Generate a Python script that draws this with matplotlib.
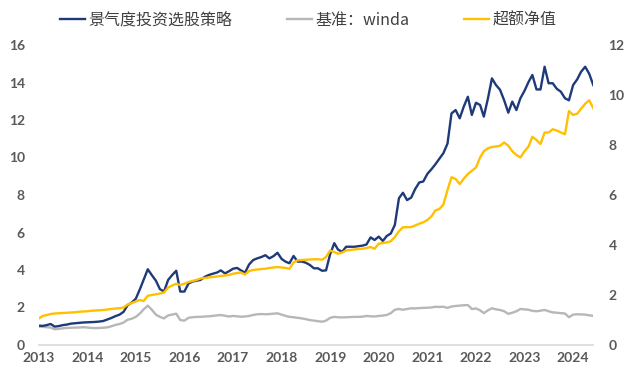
import pandas as pd
import matplotlib
matplotlib.use("Agg")
import matplotlib.pyplot as plt

# monthly data, 2013-01 .. 2024-06
strategy = [
    1.03, 1.02, 1.06, 1.12, 0.98, 1.01, 1.06, 1.09, 1.14, 1.16, 1.18, 1.20,
    1.21, 1.22, 1.23, 1.25, 1.28, 1.36, 1.44, 1.54, 1.62, 1.77, 2.13, 2.26,
    2.47, 2.98, 3.48, 4.04, 3.73, 3.43, 2.98, 2.85, 3.47, 3.73, 3.96, 2.85,
    2.85, 3.28, 3.38, 3.43, 3.47, 3.63, 3.73, 3.80, 3.86, 3.98, 3.82, 3.93,
    4.07, 4.11, 3.98, 3.86, 4.29, 4.53, 4.62, 4.69, 4.79, 4.62, 4.74, 4.92,
    4.59, 4.44, 4.36, 4.75, 4.45, 4.45, 4.39, 4.27, 4.09, 4.09, 3.96, 3.98,
    4.85, 5.43, 5.09, 4.97, 5.24, 5.24, 5.24, 5.27, 5.30, 5.36, 5.74, 5.60,
    5.78, 5.55, 5.81, 5.95, 6.40, 7.83, 8.12, 7.73, 7.86, 8.32, 8.67, 8.72,
    9.13, 9.38, 9.63, 9.93, 10.23, 10.74, 12.35, 12.53, 12.09, 12.71, 13.24, 12.27,
    12.92, 12.80, 12.18, 13.15, 14.22, 13.86, 13.61, 13.05, 12.39, 12.98, 12.53, 13.16,
    13.56, 14.04, 14.40, 13.63, 13.63, 14.84, 13.96, 13.96, 13.66, 13.51, 13.16, 13.05,
    13.86, 14.17, 14.57, 14.84, 14.47, 13.86,
]
benchmark = [
    0.98, 0.97, 0.95, 0.93, 0.84, 0.86, 0.89, 0.91, 0.92, 0.93, 0.93, 0.95,
    0.93, 0.91, 0.90, 0.91, 0.92, 0.94, 1.00, 1.07, 1.12, 1.20, 1.35, 1.40,
    1.50, 1.68, 1.90, 2.10, 1.88, 1.62, 1.50, 1.42, 1.58, 1.62, 1.67, 1.33,
    1.30, 1.45, 1.48, 1.50, 1.50, 1.52, 1.53, 1.55, 1.58, 1.60, 1.56, 1.52,
    1.55, 1.53, 1.51, 1.52, 1.55, 1.60, 1.64, 1.65, 1.64, 1.65, 1.67, 1.69,
    1.62, 1.55, 1.50, 1.48, 1.45, 1.42, 1.38, 1.33, 1.30, 1.27, 1.24, 1.30,
    1.45, 1.50, 1.48, 1.47, 1.48, 1.49, 1.50, 1.50, 1.51, 1.55, 1.53, 1.52,
    1.55, 1.57, 1.60, 1.70, 1.88, 1.92, 1.88, 1.92, 1.96, 1.95, 1.97, 1.98,
    1.99, 2.00, 2.04, 2.03, 2.04, 1.98, 2.05, 2.08, 2.10, 2.12, 2.13, 1.92,
    1.95, 1.85, 1.70, 1.85, 1.96, 1.90, 1.87, 1.80, 1.66, 1.72, 1.80, 1.92,
    1.90, 1.88, 1.82, 1.80, 1.83, 1.87, 1.80, 1.74, 1.72, 1.70, 1.68, 1.48,
    1.62, 1.64, 1.63, 1.62, 1.58, 1.56,
]
excess = [
    1.06, 1.16, 1.20, 1.24, 1.26, 1.27, 1.28, 1.29, 1.30, 1.31, 1.33, 1.34,
    1.35, 1.37, 1.38, 1.39, 1.40, 1.42, 1.44, 1.46, 1.47, 1.50, 1.62, 1.68,
    1.74, 1.80, 1.76, 1.97, 2.00, 2.03, 2.06, 2.10, 2.30, 2.38, 2.45, 2.40,
    2.45, 2.52, 2.56, 2.60, 2.66, 2.68, 2.70, 2.72, 2.74, 2.76, 2.78, 2.80,
    2.85, 2.88, 2.90, 2.82, 2.96, 3.00, 3.02, 3.04, 3.05, 3.08, 3.10, 3.12,
    3.10, 3.08, 3.05, 3.30, 3.39, 3.40, 3.41, 3.42, 3.43, 3.43, 3.41, 3.52,
    3.78, 3.72, 3.65, 3.70, 3.78, 3.80, 3.82, 3.84, 3.85, 3.88, 3.92, 3.85,
    4.05, 4.08, 4.10, 4.15, 4.32, 4.55, 4.71, 4.71, 4.72, 4.78, 4.85, 4.91,
    5.00, 5.15, 5.38, 5.44, 5.62, 6.20, 6.71, 6.64, 6.44, 6.65, 6.84, 6.97,
    7.10, 7.50, 7.75, 7.87, 7.92, 7.94, 7.97, 8.10, 7.97, 7.75, 7.60, 7.50,
    7.75, 7.95, 8.33, 8.20, 8.04, 8.50, 8.50, 8.63, 8.58, 8.50, 8.43, 9.36,
    9.20, 9.25, 9.45, 9.65, 9.79, 9.47,
]
dates = pd.date_range("2013-01-01", periods=len(strategy), freq="MS")
years = list(range(2013, 2025))

labels = ["景气度投资选股策略", "基准：winda", "超额净值"]
colors = ["#1f3a78", "#b7b7b7", "#ffc000"]

plt.rcParams["font.family"] = ["Noto Sans CJK SC", "DejaVu Sans"]

fig = plt.figure(figsize=(6.27, 3.78), dpi=100)
ax = fig.add_axes([38.7 / 627, 1 - 345 / 378, (593.3 - 38.7) / 627, 300 / 378])
ax2 = ax.twinx()

l2, = ax.plot(dates, benchmark, color=colors[1], lw=1.7, zorder=2)
l1, = ax.plot(dates, strategy, color=colors[0], lw=1.7, zorder=3)
l3, = ax2.plot(dates, excess, color=colors[2], lw=1.7)

ax.set_xlim(dates[0], dates[-1])
ax.set_ylim(0, 16)
ax2.set_ylim(0, 12)
ax.set_yticks(range(0, 17, 2))
ax2.set_yticks(range(0, 13, 2))
ax.set_xticks([pd.Timestamp(f"{y}-01-01") for y in years])
ax.set_xticklabels([str(y) for y in years])

tick_font = dict(family="Lato", weight="bold", size=10)
for a in (ax, ax2):
    for s in a.spines.values():
        s.set_visible(False)
    a.tick_params(length=0, colors="#595959")
ax.spines["bottom"].set_visible(True)
ax.spines["bottom"].set_color("#d9d9d9")
ax.spines["bottom"].set_linewidth(1.2)
ax.tick_params(axis="y", pad=10)
ax2.tick_params(axis="y", pad=11)
ax.tick_params(axis="x", pad=5)
for t in ax.get_xticklabels() + ax.get_yticklabels() + ax2.get_yticklabels():
    t.set_fontproperties(matplotlib.font_manager.FontProperties(**tick_font))

fig.legend([l1, l2, l3], labels, loc="center", bbox_to_anchor=(308 / 627, 1 - 20 / 378),
           ncol=3, frameon=False, handlelength=1.6, handletextpad=0.2,
           columnspacing=3.4, fontsize=11.5, labelcolor="#404040")

plt.savefig("out.png", dpi=100)
